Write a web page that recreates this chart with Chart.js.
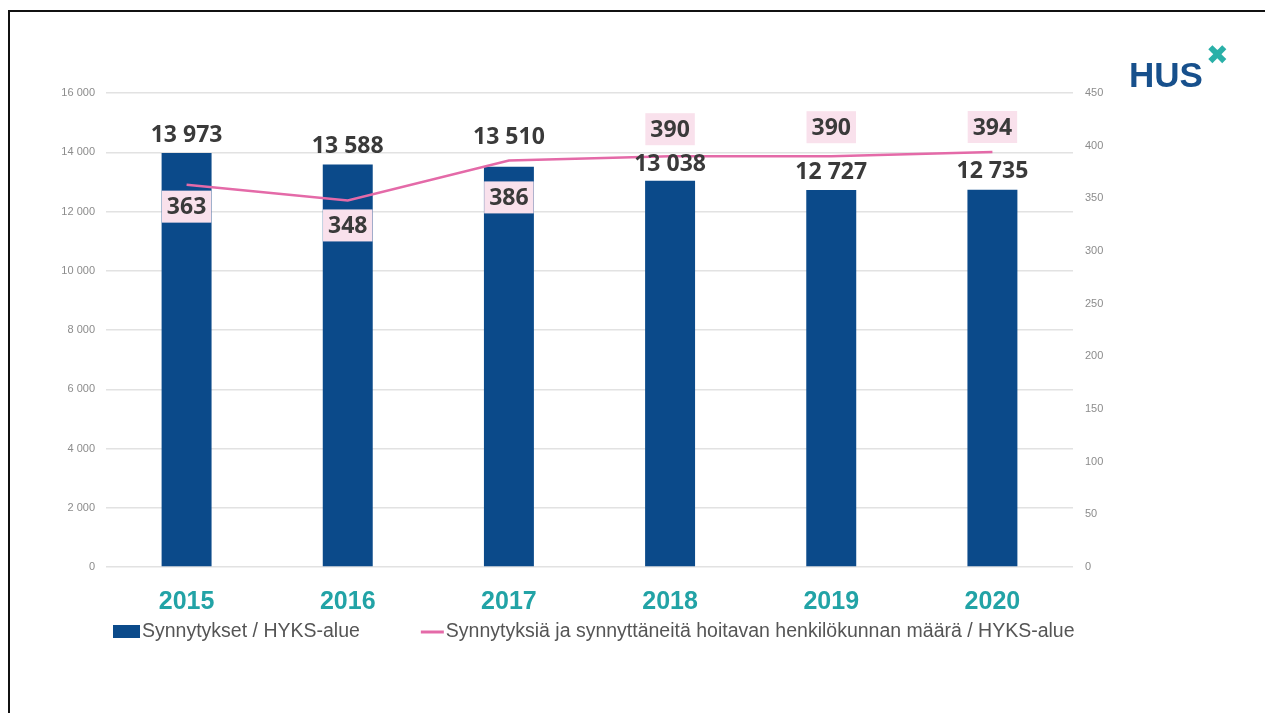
<!DOCTYPE html>
<html>
<head>
<meta charset="utf-8">
<script src="https://cdn.jsdelivr.net/npm/chart.js@4.4.0/dist/chart.umd.min.js"></script>
<style>
  html, body { margin: 0; padding: 0; background: #fff; }
  #wrap { position: relative; width: 1265px; height: 713px; overflow: hidden; }
  #frame { position: absolute; left: 8px; top: 10px; right: -10px; bottom: -10px;
           border-top: 2px solid #111; border-left: 2px solid #111; }
  #chart { position: absolute; left: 0; top: 0; }
  #logo { position: absolute; left: 1129px; top: 55px; font: bold 35px "Liberation Sans", Arial, sans-serif;
          color: #17508c; }
  #logo span { position: absolute; left: 77px; top: -16px; font: 27px "DejaVu Sans", sans-serif; color: #2ab0a8; }
</style>
</head>
<body>
<div id="wrap">
  <div id="frame"></div>
  <canvas id="chart" width="1265" height="713"></canvas>
  <div id="logo">HUS<span>✖</span></div>
</div>
<script>
var years = ['2015', '2016', '2017', '2018', '2019', '2020'];
var births = [13973, 13588, 13510, 13038, 12727, 12735];
var staff = [363, 348, 386, 390, 390, 394];
var birthsLabel = 'Synnytykset / HYKS-alue';
var staffLabel = 'Synnytyksiä ja synnyttäneitä hoitavan henkilökunnan määrä / HYKS-alue';

// label placement (pixels from the point, + is down)
var barLabelShift = [-18, -18, -29, -16, -18, -18];
var lineLabelShift = [22, 25, 37, -27, -29, -25];

function fmt(v) {
    return String(v).replace(/\B(?=(\d{3})+(?!\d))/g, ' ');
}

var valueLabels = {
    id: 'valueLabels',
    afterDatasetsDraw: function (chart) {
        var c = chart.ctx;
        c.save();
        c.textAlign = 'center';
        c.textBaseline = 'middle';
        c.font = 'bold 23px "Noto Sans", sans-serif';
        chart.getDatasetMeta(0).data.forEach(function (bar, i) {
            c.fillStyle = '#3a3a3a';
            c.fillText(fmt(births[i]), bar.x, bar.y + barLabelShift[i]);
        });
        chart.getDatasetMeta(1).data.forEach(function (pt, i) {
            var y = pt.y + lineLabelShift[i];
            var t = String(staff[i]);
            var w = c.measureText(t).width + 10;
            c.fillStyle = '#f9e1ec';
            c.fillRect(pt.x - w / 2, y - 16, w, 32);
            c.fillStyle = '#3a3a3a';
            c.fillText(t, pt.x, y + 1);
        });
        c.restore();
    },
    // legend drawn by hand so the spacing matches the slide
    afterDraw: function (chart) {
        var c = chart.ctx;
        var ds = chart.data.datasets;
        var x = 113, y = 632;
        c.save();
        c.font = '19.5px "Liberation Sans", Arial, sans-serif';
        c.textBaseline = 'middle';
        c.textAlign = 'left';
        c.fillStyle = ds[0].backgroundColor;
        c.fillRect(x, y - 7, 27, 13);
        x += 29;
        c.fillStyle = '#555';
        c.fillText(ds[0].label, x, y);
        x += c.measureText(ds[0].label).width + 61;
        c.strokeStyle = ds[1].borderColor;
        c.lineWidth = 3;
        c.beginPath();
        c.moveTo(x, y);
        c.lineTo(x + 23, y);
        c.stroke();
        x += 25;
        c.fillStyle = '#555';
        c.fillText(ds[1].label, x, y);
        c.restore();
    }
};

var ctx = document.getElementById('chart').getContext('2d');
var chart = new Chart(ctx, {
    type: 'bar',
    data: {
        labels: years,
        datasets: [{
            label: birthsLabel,
            data: births,
            backgroundColor: '#0b4a8a',
            barPercentage: 0.31,
            categoryPercentage: 1,
            yAxisID: 'y',
            order: 2
        }, {
            type: 'line',
            label: staffLabel,
            data: staff,
            borderColor: '#e46aa8',
            backgroundColor: '#e46aa8',
            borderWidth: 2.5,
            pointRadius: 0,
            tension: 0,
            yAxisID: 'y1',
            order: 1
        }]
    },
    options: {
        responsive: false,
        animation: false,
        layout: { padding: { left: 0, right: 66, top: 93, bottom: 96 } },
        plugins: {
            tooltip: { enabled: false },
            legend: { display: false }
        },
        scales: {
            x: {
                grid: { display: false },
                border: { display: false },
                ticks: {
                    color: '#22a3a6',
                    padding: 12,
                    font: { family: '"Liberation Sans", Arial, sans-serif', size: 25, weight: 'bold' }
                },
                afterFit: function (s) { s.height = 50; }
            },
            y: {
                min: 0,
                max: 16000,
                ticks: {
                    stepSize: 2000,
                    padding: 11,
                    color: '#8c8c8c',
                    font: { family: '"Liberation Sans", Arial, sans-serif', size: 11 },
                    callback: function (v) { return fmt(v); }
                },
                grid: { color: '#e2e2e2', lineWidth: 1.5, drawTicks: false },
                border: { display: false },
                afterFit: function (s) { s.width = 106; }
            },
            y1: {
                position: 'right',
                min: 0,
                max: 450,
                ticks: {
                    stepSize: 50,
                    padding: 12,
                    color: '#8c8c8c',
                    font: { family: '"Liberation Sans", Arial, sans-serif', size: 11 }
                },
                grid: { drawOnChartArea: false, drawTicks: false },
                border: { display: false },
                afterFit: function (s) { s.width = 126; }
            }
        }
    },
    plugins: [valueLabels]
});
</script>
</body>
</html>
